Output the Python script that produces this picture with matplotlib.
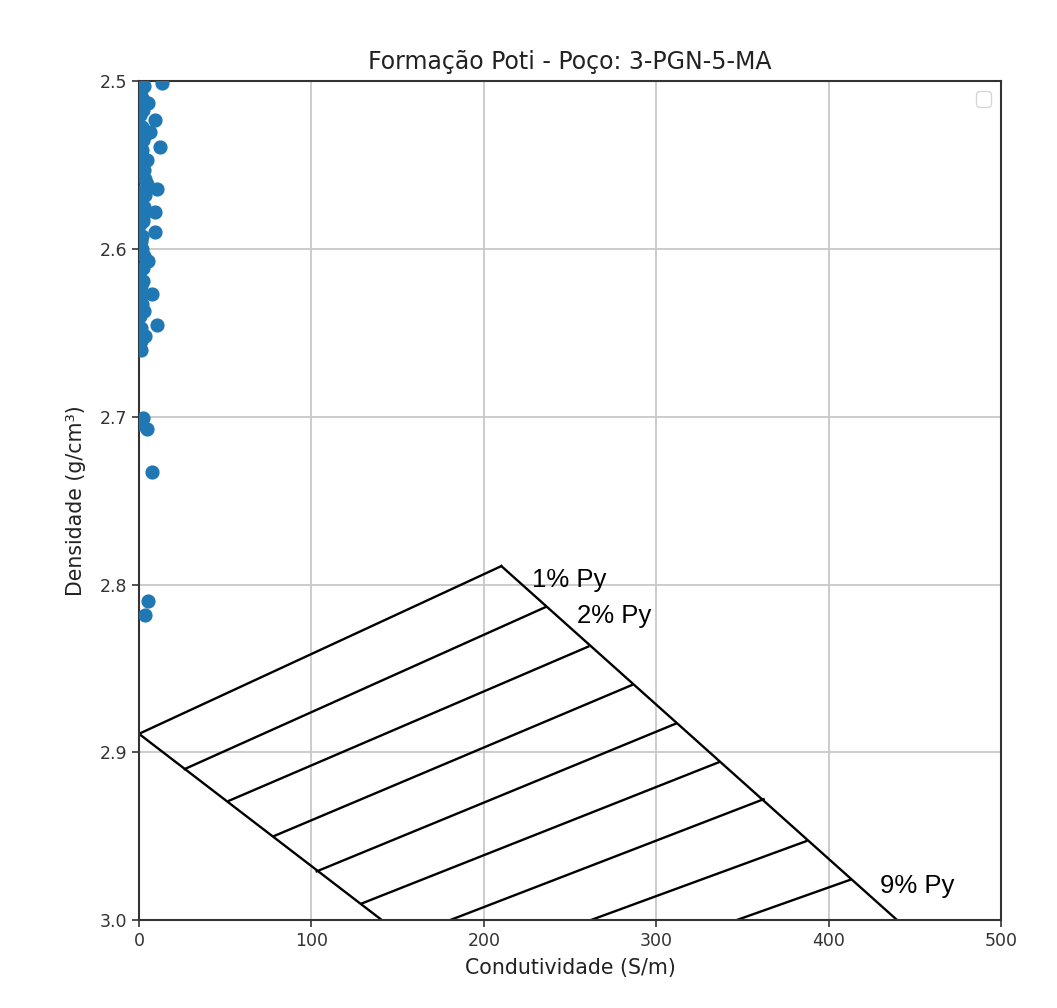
import numpy as np
import matplotlib
matplotlib.use('Agg')
import matplotlib.pyplot as plt

# pontos do poço (condutividade S/m, densidade g/cm3)
cond = [13.2, 5.4, 9.3, 6.4, 12.2, 4.5, 4.5, 10.3, 9.3, 9.3, 2.3, 5.4, 2.3, 7.4, 1.6,
        10.3, 3.5, 2.5, 4.5, 7.7, 5.4, 3.5,
        1.0, 2.0, 0.5, 1.5, 2.5, 1.0, 2.0, 0.8, 1.5, 2.8, 0.5, 1.2, 2.0, 0.6, 1.4,
        0.3, 1.0, 0.6, 1.8, 0.4, 1.2, 0.8,
        3.0, 2.2, 3.4, 1.7, 2.9, 3.2, 2.4, 1.9, 3.1, 2.6, 1.3, 2.7, 0.9, 3.3, 1.1]
dens = [2.501, 2.513, 2.523, 2.530, 2.539, 2.547, 2.561, 2.564, 2.578, 2.590, 2.583,
        2.607, 2.619, 2.627, 2.633, 2.645, 2.652, 2.701, 2.707, 2.733, 2.810, 2.818,
        2.505, 2.510, 2.520, 2.527, 2.535, 2.543, 2.550, 2.556, 2.570, 2.575, 2.585,
        2.595, 2.600, 2.613, 2.622, 2.640, 2.655, 2.598, 2.545, 2.566, 2.530, 2.704,
        2.503, 2.517, 2.532, 2.541, 2.553, 2.568, 2.581, 2.592, 2.604, 2.611, 2.628,
        2.637, 2.647, 2.558, 2.660]

# bordas do diagrama
left_edge_x = [0, 140.8]
left_edge_y = [2.889, 3.0]
right_edge_x = [210.2, 439.7]
right_edge_y = [2.789, 3.0]

# linhas de % de pirita (1% ... 9%)
py_x0 = [0, 26.5, 52.0, 78.2, 103.1, 129.6, 180.6, 262.2, 346.8]
py_y0 = [2.889, 2.910, 2.929, 2.950, 2.971, 2.990, 3.0, 3.0, 3.0]
py_x1 = [210.2, 235.7, 260.6, 285.7, 311.2, 336.2, 362.3, 387.0, 412.6]
py_y1 = [2.789, 2.8135, 2.837, 2.860, 2.883, 2.906, 2.928, 2.953, 2.976]

rotulos = ['1% Py', '2% Py', '9% Py']
rot_x = [228, 254, 430]
rot_y = [2.797, 2.819, 2.980]

fig = plt.figure(figsize=(10.57, 10.08), dpi=100)
ax = fig.add_axes([0.1315, 0.0873, 0.8155, 0.832])

ax.scatter(cond, dens, s=85, color='#1f77b4', zorder=3)

ax.plot(left_edge_x, left_edge_y, color='k', lw=1.7)
ax.plot(right_edge_x, right_edge_y, color='k', lw=1.7)
for i in range(len(py_x0)):
    ax.plot([py_x0[i], py_x1[i]], [py_y0[i], py_y1[i]], color='k', lw=1.7)

for t, x, y in zip(rotulos, rot_x, rot_y):
    ax.text(x, y, t, fontsize=18.5, family='Liberation Sans', va='center', ha='left')

ax.set_xlim(0, 500)
ax.set_ylim(3.0, 2.5)
ax.set_xticks([0, 100, 200, 300, 400, 500])
ax.set_yticks([2.5, 2.6, 2.7, 2.8, 2.9, 3.0])
ax.grid(True, color='#c8c8c8', lw=1.3)
ax.set_axisbelow(True)
ax.tick_params(labelsize=12.5, width=1.2, length=5, colors='#333333')
for s in ax.spines.values():
    s.set_linewidth(1.5)
    s.set_color('#333333')

ax.set_title('Formação Poti - Poço: 3-PGN-5-MA', fontsize=17, color='#222222', pad=9)
ax.set_xlabel('Condutividade (S/m)', fontsize=14.8, color='#222222', labelpad=6)
ax.set_ylabel('Densidade (g/cm³)', fontsize=14.8, color='#222222', labelpad=10)
ax.legend(handles=[], loc='upper right', fontsize=14)

fig.savefig('out.png', dpi=100)
